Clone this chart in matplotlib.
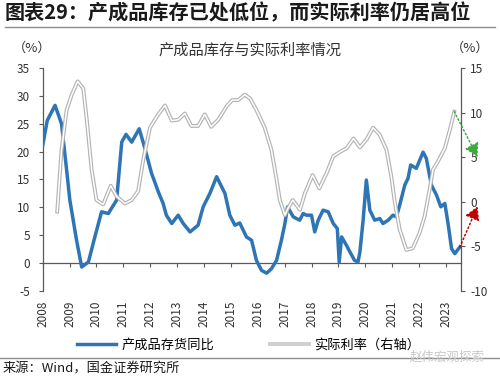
import matplotlib
matplotlib.use("Agg")
import matplotlib.pyplot as plt
from matplotlib.lines import Line2D

plt.rcParams["font.family"] = ["Noto Sans CJK SC", "DejaVu Sans"]
plt.rcParams["axes.unicode_minus"] = False

# 产成品存货同比 (left axis, %)
inv_x = [2008.0, 2008.17, 2008.46, 2008.7, 2008.89, 2009.01, 2009.26, 2009.45, 2009.7, 2009.94,
         2010.19, 2010.44, 2010.75, 2010.94, 2011.1, 2011.31, 2011.59, 2011.8, 2012.05, 2012.3,
         2012.48, 2012.6, 2012.8, 2013.04, 2013.23, 2013.48, 2013.78, 2013.97, 2014.22, 2014.47,
         2014.78, 2014.96, 2015.15, 2015.33, 2015.58, 2015.77, 2015.95, 2016.14, 2016.33, 2016.51,
         2016.7, 2016.88, 2017.01, 2017.11, 2017.32, 2017.56, 2017.69, 2017.81, 2018.0, 2018.12,
         2018.25, 2018.43, 2018.62, 2018.81, 2018.96, 2019.03, 2019.12, 2019.3, 2019.43, 2019.6,
         2019.73, 2019.8, 2019.92, 2020.04, 2020.17, 2020.35, 2020.54, 2020.66, 2020.85, 2021.03,
         2021.16, 2021.28, 2021.47, 2021.59, 2021.69, 2021.9, 2022.15, 2022.27, 2022.46, 2022.65,
         2022.81, 2022.96, 2023.08, 2023.21, 2023.33, 2023.52]
inv_y = [21.1, 25.6, 28.3, 25.0, 16.7, 11.3, 4.1, -0.7, 0.2, 4.7,
         9.2, 8.9, 11.3, 21.7, 23.1, 21.7, 24.1, 20.6, 16.1, 12.8,
         10.7, 8.6, 7.1, 8.6, 7.1, 5.6, 6.8, 10.1, 12.5, 15.5,
         12.5, 8.6, 6.8, 7.2, 4.7, 4.1, 0.5, -1.3, -1.8, -1.0,
         0.5, 4.1, 7.1, 10.1, 8.3, 7.7, 8.9, 8.6, 8.6, 5.6,
         7.7, 9.5, 9.2, 7.1, 6.2, 0.2, 4.7, 3.2, 2.0, 0.5,
         0.2, 2.0, 7.7, 14.9, 9.5, 7.7, 8.0, 7.1, 7.7, 8.6,
         8.3, 10.4, 14.0, 15.2, 17.6, 17.0, 19.9, 18.8, 14.0, 12.2,
         10.1, 10.7, 7.1, 2.6, 1.7, 2.9]

# 实际利率 (right axis, %)
rate_x = [2008.54, 2008.7, 2008.89, 2009.08, 2009.3, 2009.51, 2009.64, 2009.82, 2010.0, 2010.25,
          2010.53, 2010.75, 2011.06, 2011.31, 2011.55, 2011.74, 2011.99, 2012.3, 2012.55, 2012.8,
          2013.04, 2013.29, 2013.53, 2013.78, 2014.03, 2014.27, 2014.53, 2014.84, 2015.05, 2015.27,
          2015.52, 2015.71, 2015.95, 2016.26, 2016.51, 2016.7, 2016.82, 2017.01, 2017.13, 2017.3,
          2017.57, 2017.76, 2018.04, 2018.29, 2018.56, 2018.81, 2019.06, 2019.31, 2019.56, 2019.8,
          2020.05, 2020.29, 2020.54, 2020.79, 2020.97, 2021.1, 2021.28, 2021.53, 2021.77, 2022.02,
          2022.21, 2022.39, 2022.52, 2022.7, 2022.96, 2023.15, 2023.31]
rate_y = [-1.1, 5.8, 10.3, 12.0, 13.5, 12.7, 9.2, 3.6, 0.2, -0.3,
          1.8, 0.6, -0.2, 0.2, 1.2, 4.7, 8.3, 9.8, 10.8, 9.1,
          9.2, 9.9, 8.5, 8.5, 9.8, 8.4, 9.2, 10.7, 11.4, 11.4,
          12.0, 11.6, 10.3, 8.3, 5.8, 2.5, 0.2, -1.5, -0.7, 0.2,
          -0.9, 1.0, 3.0, 1.5, 3.2, 5.1, 5.6, 6.0, 7.1, 6.1,
          7.0, 8.3, 7.5, 5.8, 2.8, -0.1, -3.1, -5.4, -5.2, -3.5,
          -1.6, 1.3, 3.6, 4.5, 6.0, 8.1, 10.1]

years = list(range(2008, 2024))
left_ticks = [-5, 0, 5, 10, 15, 20, 25, 30, 35]
right_ticks = [-10, -5, 0, 5, 10, 15]

BLUE = "#2e75b6"
GREY = "#b4b4b4"
AXIS = "#595959"

fig = plt.figure(figsize=(5, 3.8), dpi=100)
ax = fig.add_axes([0.0854, 0.2342, 0.836, 0.5869])
ax2 = ax.twinx()

ax.plot(inv_x, inv_y, color=BLUE, lw=2.5, solid_joinstyle="round", zorder=3)
ax2.plot(rate_x, rate_y, color=GREY, lw=2.8, solid_joinstyle="round")
ax2.plot(rate_x, rate_y, color="white", lw=1.1, solid_joinstyle="round")

ax.set_xlim(2008, 2023.55)
ax.set_ylim(-5, 35)
ax2.set_ylim(-10, 15)
ax.set_xticks(years)
ax.set_xticklabels([str(y) for y in years])
ax.set_yticks(left_ticks)
ax2.set_yticks(right_ticks)

for s in ("top", "right"):
    ax.spines[s].set_visible(False)
for s in ("top", "left", "bottom"):
    ax2.spines[s].set_visible(False)
ax.spines["bottom"].set_position(("data", 0))
for sp in (ax.spines["left"], ax.spines["bottom"], ax2.spines["right"]):
    sp.set_color(AXIS)
    sp.set_linewidth(0.9)

ax.tick_params(axis="x", direction="out", length=3, color=AXIS, pad=24,
               labelsize=8.5, labelcolor="#333333", labelrotation=90)
ax.tick_params(axis="y", direction="out", length=3, color=AXIS, pad=6,
               labelsize=8.5, labelcolor="#333333")
ax2.tick_params(axis="y", direction="out", length=3, color=AXIS, pad=4,
                labelsize=8.5, labelcolor="#333333")

# arrows at the right end
head = "-|>,head_length=0.8,head_width=0.45"
ax2.annotate("", xy=(2024.18, 5.0), xytext=(rate_x[-1], rate_y[-1]),
             arrowprops=dict(arrowstyle=head, color="#3daa3d", ls=":", lw=1.1,
                             shrinkA=0, shrinkB=0),
             annotation_clip=False)
red_start = -10 + (inv_y[-1] + 5) / 40 * 25
ax2.annotate("", xy=(2024.18, -0.5), xytext=(inv_x[-1], red_start),
             arrowprops=dict(arrowstyle=head, color="#c00000", ls=":", lw=1.1,
                             shrinkA=0, shrinkB=0),
             annotation_clip=False)

# texts around the chart
fig.text(0.01, 0.966, "图表29：产成品库存已处低位，而实际利率仍居高位",
         fontsize=14.5, fontweight="bold", va="center", ha="left", color="#1a1a1a")
fig.add_artist(Line2D([0.01, 0.99], [0.929, 0.929], color="#8c8c8c", lw=1))
fig.text(0.5, 0.868, "产成品库存与实际利率情况", fontsize=11, ha="center", va="center",
         color="#333333")
fig.text(0.064, 0.874, "（%）", fontsize=9.5, ha="center", va="center", color="#333333")
fig.text(0.94, 0.874, "（%）", fontsize=9.5, ha="center", va="center", color="#333333")

handles = [Line2D([], [], color=BLUE, lw=2.5),
           Line2D([], [], color="#cfcfcf", lw=2.8)]
fig.legend(handles, ["产成品存货同比", "实际利率（右轴）"], loc="center",
           bbox_to_anchor=(0.497, 0.092), ncol=2, frameon=False, fontsize=9.5,
           handlelength=3.0, handletextpad=0.4, columnspacing=4.2)

fig.add_artist(Line2D([0.0, 1.0], [0.058, 0.058], color="#8c8c8c", lw=1))
fig.text(0.006, 0.029, "来源：Wind，国金证券研究所", fontsize=9.5, ha="left", va="center",
         color="#1a1a1a")
fig.text(0.97, 0.06, "赵伟宏观探索", fontsize=9, ha="right", va="center", color="#c8c8c8")

fig.savefig("out.png", dpi=100)
